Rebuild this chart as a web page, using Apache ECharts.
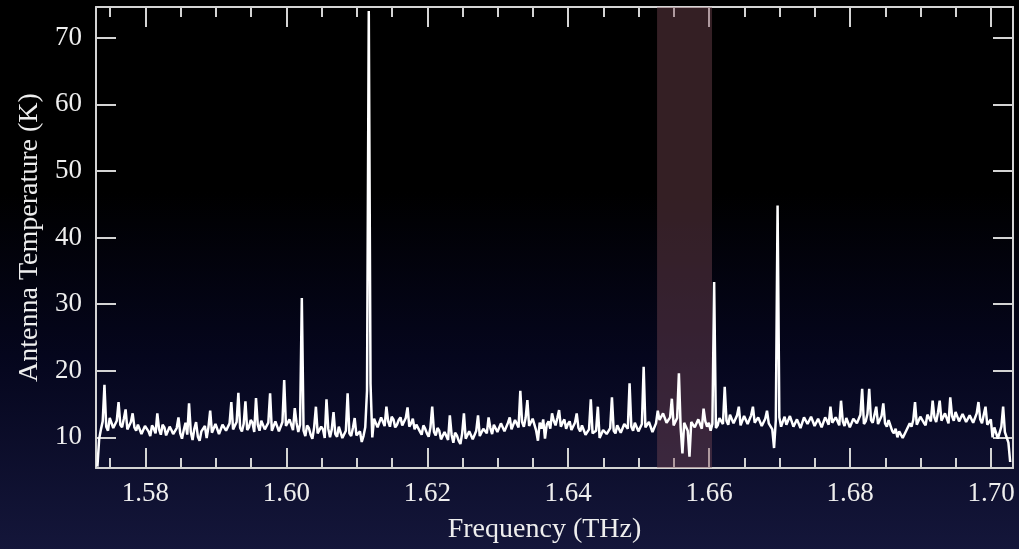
<!DOCTYPE html>
<html>
<head>
<meta charset="utf-8">
<title>Spectrum</title>
<script src="https://cdn.jsdelivr.net/npm/echarts@6/dist/echarts.min.js"></script>
<style>
  html, body { margin: 0; padding: 0; background: #000; }
  #main { width: 1019px; height: 549px; }
</style>
</head>
<body>
<div id="main"></div>
<script>
// spectrum sampled every 0.00025 THz starting at 1.5732 THz
var freqStart = 1.5732;
var freqStep = 0.00025;
var temps = [
  5.6, 9.8, 11.2, 12.4, 17.9, 11.6, 11.0, 12.9, 12.6, 11.4,
  11.3, 12.5, 15.3, 11.9, 11.5, 12.8, 14.2, 11.2, 11.0, 12.3,
  13.6, 11.5, 11.0, 11.9, 12.1, 10.5, 10.6, 11.7, 11.6, 10.9,
  10.2, 11.8, 11.3, 10.6, 13.6, 11.2, 10.4, 11.9, 11.5, 10.3,
  10.0, 11.6, 11.1, 10.5, 10.3, 11.4, 13.0, 10.6, 9.8, 11.1,
  12.2, 10.4, 15.1, 10.8, 9.6, 11.3, 12.3, 10.1, 9.5, 10.9,
  10.8, 11.7, 9.9, 11.5, 14.0, 10.7, 10.6, 12.0, 11.8, 10.5,
  10.4, 11.9, 11.6, 11.0, 10.9, 12.1, 15.3, 11.2, 11.0, 12.3,
  16.7, 11.4, 10.9, 12.0, 15.4, 11.1, 11.5, 12.6, 12.2, 10.8,
  15.9, 11.9, 11.0, 12.5, 12.4, 11.2, 10.9, 12.2, 16.6, 11.0,
  11.3, 12.4, 12.5, 10.9, 11.0, 12.3, 18.6, 11.7, 11.4, 12.7,
  12.6, 11.1, 14.4, 12.2, 10.8, 11.9, 30.9, 11.0, 10.2, 11.8,
  11.4, 10.4, 9.8, 11.5, 14.6, 10.6, 10.3, 11.6, 11.2, 9.9,
  15.7, 11.3, 10.0, 11.2, 13.8, 10.5, 10.1, 11.6, 11.3, 9.9,
  9.8, 11.0, 16.6, 10.6, 10.2, 11.4, 12.9, 10.3, 10.0, 10.9,
  9.3, 10.2, 11.5, 17.0, 74.0, 18.0, 10.0, 12.8, 12.6, 11.5,
  11.8, 13.0, 12.9, 11.7, 14.6, 12.4, 11.6, 13.1, 12.7, 11.5,
  11.9, 12.6, 13.0, 11.8, 11.7, 12.9, 14.5, 11.6, 12.1, 12.8,
  11.2, 11.9, 12.2, 10.9, 10.4, 11.8, 11.3, 10.6, 10.1, 11.5,
  14.6, 10.8, 10.3, 11.4, 11.0, 9.7, 9.4, 10.8, 10.5, 9.6,
  13.3, 10.4, 9.2, 10.7, 10.3, 9.5, 9.0, 10.6, 13.6, 9.8,
  9.5, 10.9, 10.6, 9.7, 9.6, 11.0, 13.3, 10.2, 10.4, 11.3,
  11.6, 10.6, 13.0, 11.4, 10.5, 11.9, 11.8, 10.8, 10.6, 12.1,
  12.0, 10.9, 11.1, 12.2, 13.0, 11.2, 11.4, 12.6, 12.5, 11.5,
  17.0, 12.3, 11.6, 12.9, 15.6, 11.7, 11.8, 12.8, 12.6, 11.0,
  9.5, 12.2, 11.3, 12.7, 9.8, 11.9, 12.4, 11.3, 13.6, 12.5,
  11.8, 12.9, 14.1, 11.6, 12.2, 12.7, 11.3, 12.0, 12.4, 11.1,
  11.0, 12.2, 13.6, 11.4, 10.9, 11.8, 11.6, 10.4, 10.1, 11.2,
  15.7, 10.6, 10.3, 11.0, 14.6, 9.9, 10.0, 11.1, 11.2, 10.5,
  10.2, 11.4, 16.0, 11.0, 10.6, 11.8, 11.5, 10.7, 10.8, 12.0,
  12.0, 11.3, 18.1, 11.6, 11.0, 12.2, 12.1, 10.9, 11.2, 12.0,
  20.6, 11.5, 11.4, 12.3, 12.0, 10.8, 11.1, 12.1, 14.0, 12.6,
  12.8, 13.6, 13.4, 12.2, 11.9, 13.0, 15.8, 11.8, 11.6, 12.9,
  19.6, 11.4, 7.6, 12.2, 12.5, 11.0, 7.1, 12.3, 12.4, 11.5,
  11.4, 12.7, 12.6, 11.3, 14.3, 12.4, 11.6, 12.2, 11.0, 12.0,
  33.3, 11.4, 11.8, 12.9, 13.0, 12.0, 17.6, 12.5, 11.9, 13.4,
  13.2, 12.1, 12.0, 13.3, 14.6, 11.8, 12.1, 13.2, 13.0, 12.0,
  11.8, 13.3, 14.6, 12.2, 12.2, 13.0, 13.1, 11.7, 11.9, 12.8,
  14.0, 12.1, 12.3, 11.2, 8.4, 12.6, 44.8, 13.0, 11.6, 12.4,
  13.1, 11.9, 12.0, 13.2, 12.9, 11.6, 11.8, 12.7, 12.8, 11.4,
  11.7, 13.0, 12.7, 12.0, 11.9, 13.1, 13.1, 11.7, 11.6, 12.8,
  12.6, 11.5, 11.8, 13.0, 12.5, 11.9, 14.6, 12.2, 11.9, 13.0,
  12.8, 11.8, 15.5, 12.4, 11.7, 12.9, 12.6, 11.5, 11.6, 12.8,
  13.0, 12.1, 12.2, 13.4, 17.3, 12.0, 12.4, 13.5, 17.3, 12.6,
  12.2, 13.4, 14.6, 12.0, 12.0, 13.2, 15.1, 12.1, 11.6, 12.6,
  12.3, 11.0, 10.6, 11.3, 10.0, 10.9, 10.8, 9.9, 9.8, 11.0,
  11.2, 12.1, 11.6, 12.6, 15.3, 11.9, 12.0, 13.1, 12.9, 12.2,
  11.8, 13.4, 13.3, 12.4, 15.5, 13.0, 12.3, 13.7, 15.5, 12.5,
  12.6, 13.6, 13.5, 12.1, 16.0, 13.2, 12.5, 13.8, 13.6, 12.4,
  12.2, 13.5, 13.4, 12.3, 12.0, 13.3, 13.2, 12.2, 12.4, 13.6,
  15.3, 12.7, 12.1, 13.4, 14.6, 11.9, 11.8, 12.7, 10.0, 11.5,
  11.4, 9.8, 9.6, 11.6, 14.6, 10.8, 10.5, 9.2, 6.3
];

var xMajorTicks = [1.58, 1.60, 1.62, 1.64, 1.66, 1.68, 1.70];
var xMinorTicks = [1.575, 1.585, 1.59, 1.595, 1.605, 1.61, 1.615, 1.625, 1.63, 1.635,
  1.645, 1.65, 1.655, 1.665, 1.67, 1.675, 1.685, 1.69, 1.695];
var yTicks = [10, 20, 30, 40, 50, 60, 70];
var band = [1.6526, 1.6604];

var chart = echarts.init(document.getElementById("main"));

var points = temps.map(function (t, i) {
  return [+(freqStart + i * freqStep).toFixed(5), t];
});

var frame = { color: "#d4d4d4", width: 2 };
var font = "Liberation Serif";

function xAxisDef(pos, ticks, len, showLine, showLabel, extra) {
  var ax = {
    type: "value",
    position: pos,
    min: 1.573,
    max: 1.7031,
    axisLine: { show: showLine, onZero: false, lineStyle: frame },
    axisTick: { show: true, inside: true, length: len, customValues: ticks, lineStyle: frame },
    axisLabel: {
      show: showLabel,
      customValues: ticks,
      margin: 12,
      color: "#eeeeee",
      fontFamily: font,
      fontSize: 27,
      formatter: function (v) { return v.toFixed(2); }
    },
    splitLine: { show: false }
  };
  return Object.assign(ax, extra || {});
}

function yAxisDef(pos, showLabel, extra) {
  var ax = {
    type: "value",
    position: pos,
    min: 5.4,
    max: 74.6,
    axisLine: { show: true, onZero: false, lineStyle: frame },
    axisTick: { show: true, inside: true, length: 20, customValues: yTicks, lineStyle: frame },
    axisLabel: {
      show: showLabel,
      customValues: yTicks,
      margin: 14,
      color: "#eeeeee",
      fontFamily: font,
      fontSize: 27
    },
    splitLine: { show: false }
  };
  return Object.assign(ax, extra || {});
}

var option = {
  animation: false,
  backgroundColor: {
    type: "linear", x: 0, y: 0, x2: 0, y2: 1,
    colorStops: [
      { offset: 0, color: "#000000" },
      { offset: 0.35, color: "#000000" },
      { offset: 0.65, color: "#05061d" },
      { offset: 1, color: "#14163a" }
    ]
  },
  grid: { left: 96, right: 6, top: 7, bottom: 81 },
  xAxis: [
    xAxisDef("bottom", xMajorTicks, 20, true, true, {
      name: "Frequency (THz)",
      nameLocation: "middle",
      nameGap: 48,
      nameTextStyle: { color: "#eeeeee", fontFamily: font, fontSize: 28, padding: [0, 20, 0, 0] }
    }),
    xAxisDef("bottom", xMinorTicks, 10, false, false),
    xAxisDef("top", xMajorTicks, 20, true, false),
    xAxisDef("top", xMinorTicks, 10, false, false)
  ],
  yAxis: [
    yAxisDef("left", true, {
      name: "Antenna Temperature (K)",
      nameLocation: "middle",
      nameGap: 48,
      nameTextStyle: { color: "#eeeeee", fontFamily: font, fontSize: 28 }
    }),
    yAxisDef("right", false)
  ],
  series: [
    {
      name: "spectrum",
      type: "line",
      xAxisIndex: 0,
      yAxisIndex: 0,
      data: points,
      showSymbol: false,
      symbol: "none",
      lineStyle: { color: "#ffffff", width: 2.5 },
      z: 3
    },
    {
      name: "band",
      type: "line",
      xAxisIndex: 0,
      yAxisIndex: 0,
      data: [],
      z: 10,
      markArea: {
        silent: true,
        itemStyle: { color: "rgba(125,75,85,0.42)" },
        data: [[{ xAxis: band[0] }, { xAxis: band[1] }]]
      }
    }
  ]
};

chart.setOption(option);
</script>
</body>
</html>
